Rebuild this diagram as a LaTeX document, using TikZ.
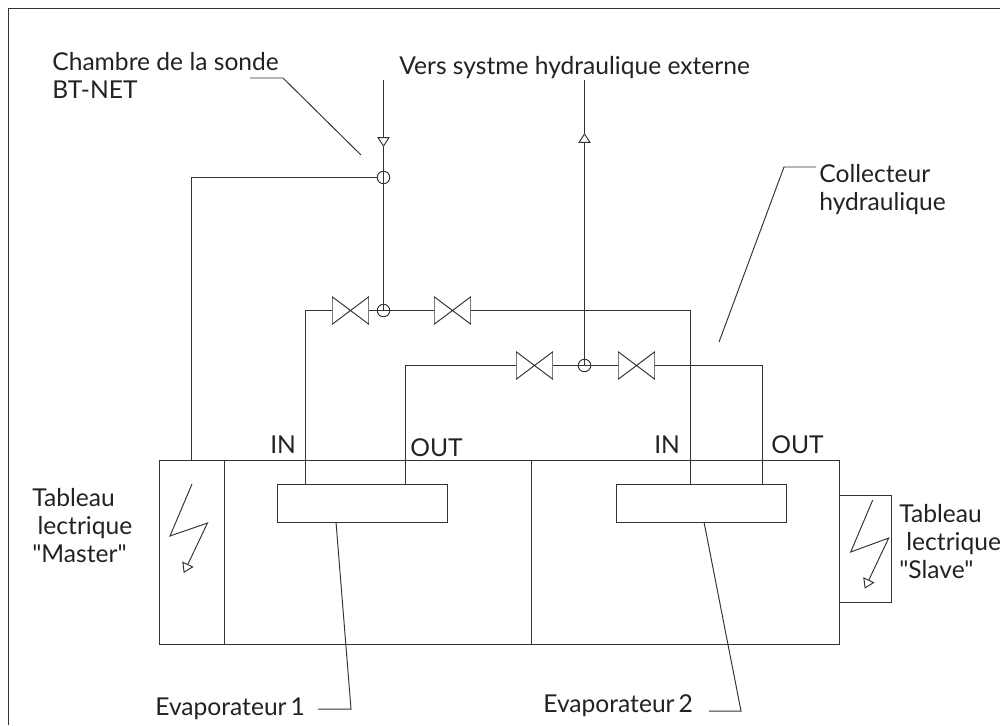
\documentclass[tikz,border=0pt]{standalone}
\usepackage{fontspec}
\setmainfont[Ligatures=TeXOff]{Lato}
\usetikzlibrary{arrows.meta}
\definecolor{traitcol}{HTML}{333333}
\definecolor{textecol}{HTML}{222222}
\tikzset{
  trait/.style={draw=traitcol,line width=0.55pt},
  fleche/.style={trait,-{Triangle[open,fill=white,length=5.6pt,width=7pt]}},
  jonction/.style={circle,draw=traitcol,line width=0.55pt,inner sep=0pt,minimum size=7.1pt},
  vanne/.style={rectangle,inner sep=0pt,minimum width=20.8pt,minimum height=15.6pt,
    path picture={\draw[trait] (path picture bounding box.north west) -- (path picture bounding box.south east) -- (path picture bounding box.north east) -- (path picture bounding box.south west) -- cycle;}},
  etiquette/.style={text=textecol,font=\fontsize{14}{15.9}\selectfont,inner sep=0pt,align=left},
  bloc/.style={trait,rectangle,inner sep=0pt},
}
\begin{document}
\begin{tikzpicture}[x=0.02cm,y=-0.02cm]
\useasboundingbox (0,0) rectangle (1000,725);
\draw [draw=traitcol,line width=0.9pt] (8.5,725) -- (8.5,8.5) -- (1000,8.5);
% groupe
\node [bloc,draw,minimum width=387.1pt,minimum height=104.7pt] (groupe) at (499.5,552.5) {};
\node [bloc,draw,minimum width=96.74pt,minimum height=21.6pt] (evap1) at (362.5,503.5) {};
\node [bloc,draw,minimum width=96.74pt,minimum height=21.6pt] (evap2) at (701.5,503.5) {};
\coordinate (esclaveh) at (891.5,495.5); \coordinate (esclaveb) at (891.5,602.5);
\draw [trait] (839.5,495.5) -- (esclaveh) -- (esclaveb) -- (839.5,602.5);
\foreach \x in {224.5,531.5} { \draw [trait] (\x,460.5) -- (\x,644.5); };
% vannes et jonctions
\foreach \nom/\x/\y in { v1/350.5/310.5 , v2/452.5/310.5 , v3/534.5/365.5 , v4/636.5/365.5 } { \node [vanne] (\nom) at (\x,\y) {}; };
\foreach \nom/\x/\y in { j1/383.5/177.5 , j2/383.5/310.5 , j3/584.5/365.5 } { \node [jonction] (\nom) at (\x,\y) {}; };
% circuit hydraulique
\coordinate (entree) at (383.5,80); \coordinate (pointe1) at (383.5,147);
\coordinate (sortie) at (584.5,80); \coordinate (pointe2) at (584.5,133);
\draw [fleche] (entree) -- (pointe1);
\draw [trait] (pointe1) -- (j2.center);
\draw [fleche] (j3.center) -- (pointe2);
\draw [trait] (pointe2) -- (sortie);
\draw [trait] (j1.west) -| (191.5,460.5);
\draw [trait] (v1.west) -| (305.5,484.5);
\draw [trait] (v1.east) -- (j2.center) -- (v2.west);
\draw [trait] (v2.east) -| (690.5,484.5);
\draw [trait] (v3.west) -| (405.5,484.5);
\draw [trait] (v3.east) -- (j3.center) -- (v4.west);
\draw [trait] (v4.east) -| (762.5,484.5);
% eclairs
\coordinate (m1) at (192,484); \coordinate (m2) at (170,536); \coordinate (m3) at (207.5,523); \coordinate (m4) at (183.7,573);
\draw [fleche] (m1) -- (m2) -- (m3) -- (m4);
\coordinate (s1) at (872.7,500); \coordinate (s2) at (850.7,552); \coordinate (s3) at (888.7,538); \coordinate (s4) at (864.7,588.7);
\draw [fleche] (s1) -- (s2) -- (s3) -- (s4);
% textes
\node [etiquette,anchor=north west] (chambre) at (52,52.5) {Chambre de la sonde\\BT-NET};
\node [etiquette,anchor=base west] (vers) at (399,74) {Vers systme hydraulique externe};
\node [etiquette,anchor=north west] (collecteur) at (819,164) {Collecteur\\hydraulique};
\node [etiquette,anchor=base west] (in1) at (270,453) {IN};
\node [etiquette,anchor=base west] (out1) at (410,456) {OUT};
\node [etiquette,anchor=base west] (in2) at (654,453) {IN};
\node [etiquette,anchor=base west] (out2) at (771,453) {OUT};
\node [etiquette,anchor=north west] (master) at (32,488) {Tableau\\\hspace*{3pt}lectrique\\"Master"};
\node [etiquette,anchor=north west] (slave) at (899,504) {Tableau\\\hspace*{4pt}lectrique\\"Slave"};
\node [etiquette,anchor=base west] (nom1) at (155,715) {Evaporateur\,1};
\node [etiquette,anchor=base west] (nom2) at (543,712) {Evaporateur\,2};
% renvois
\coordinate (c1) at (250,78); \coordinate (c2) at (283,78); \coordinate (c3) at (361,155);
\draw [trait] (c1) -- (c2) -- (c3);
\coordinate (k1) at (816,167); \coordinate (k2) at (784,167); \coordinate (k3) at (719,342);
\draw [trait] (k1) -- (k2) -- (k3);
\coordinate (e1) at (336,522); \coordinate (e2) at (351,709); \coordinate (e3) at (318,709);
\draw [trait] (e1) -- (e2) -- (e3);
\coordinate (f1) at (704,522); \coordinate (f2) at (741,711); \coordinate (f3) at (709,711);
\draw [trait] (f1) -- (f2) -- (f3);
\end{tikzpicture}
\end{document}
